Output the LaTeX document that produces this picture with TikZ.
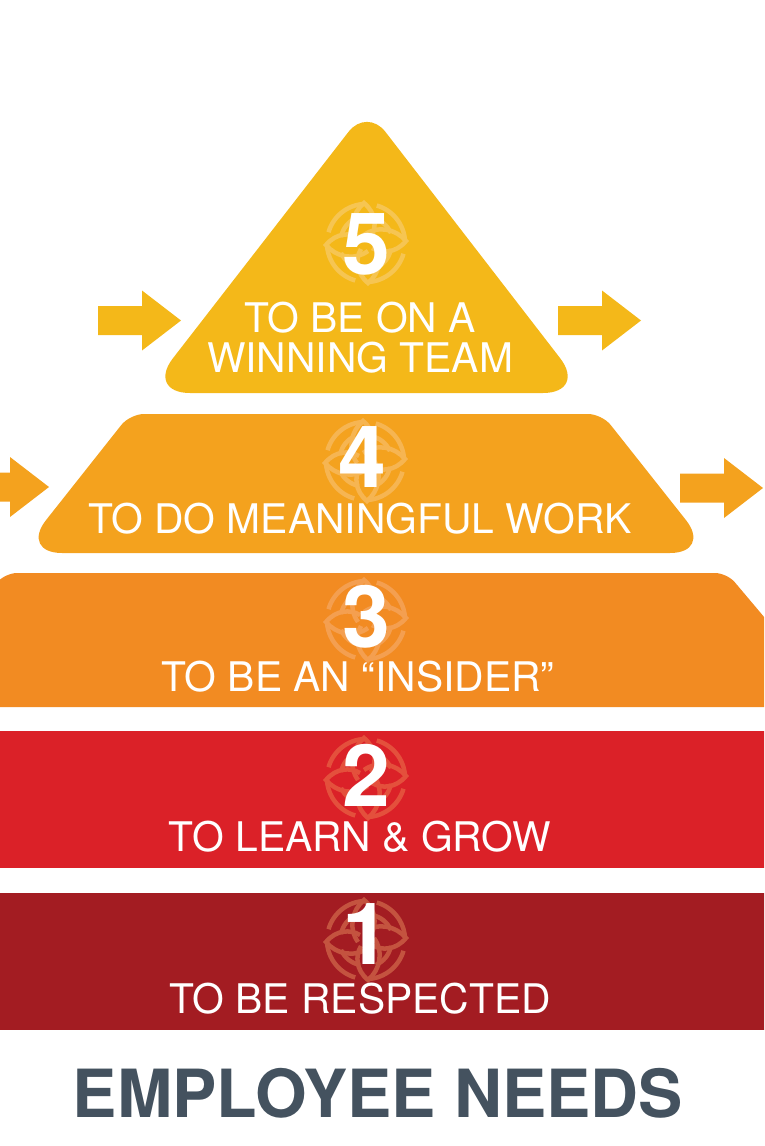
\documentclass[tikz,border=0pt]{standalone}
\usepackage{xcolor}
\usepackage{fontspec}
\setmainfont{TeX Gyre Heros}
\definecolor{levelfive}{HTML}{F4B819}
\definecolor{levelfour}{HTML}{F4A21E}
\definecolor{levelthree}{HTML}{F28B22}
\definecolor{leveltwo}{HTML}{DB2128}
\definecolor{levelone}{HTML}{A31C22}
\definecolor{swirlfive}{HTML}{F6C552}
\definecolor{swirlfour}{HTML}{F6B552}
\definecolor{swirlthree}{HTML}{F49F50}
\definecolor{swirltwo}{HTML}{E4503C}
\definecolor{swirlone}{HTML}{C4533F}
\definecolor{titleblue}{HTML}{44525F}
\tikzset{
    needtext/.style={text=white, font=\fontsize{40.8}{40}\selectfont, align=center, inner sep=0pt},
    neednum/.style={text=white, font=\fontsize{86}{86}\selectfont\bfseries, inner sep=0pt},
    pics/swirl/.style={code={
        \foreach \a in {0,90,180,270} {
            \begin{scope}[rotate=\a, draw=#1, line width=4.5pt]
                \draw (-2,-8) .. controls (12,-18) and (30,-14) .. (40,-2) .. controls (30,10) and (16,11) .. (6,5);
                \draw (2,39) arc (87:16:39);
                \draw (10,25) .. controls (18,21) and (23,15) .. (25,6);
            \end{scope}
        }
    }},
    pics/pusharrow/.style={code={
        \fill[#1] (0,-14.5) -- (44,-14.5) -- (44,-30) -- (83,0) -- (44,30) -- (44,14.5) -- (0,14.5) -- cycle;
    }}
}
\begin{document}
\begin{tikzpicture}[x=1pt, y=-1pt]
    \useasboundingbox (0,0) rectangle (764,1146);
    \clip (0,0) rectangle (764,1146);
    % Cut-off letter
    \node[text=titleblue, font=\fontsize{60}{60}\selectfont\bfseries, anchor=east, inner sep=0pt] (cutletter) at (3,224) {S};
    % Levels
    \fill[levelfive] (366,393) [rounded corners=44pt] -- (146,393) [rounded corners=30pt] -- (367,108) [rounded corners=44pt] -- (587,393) [sharp corners] -- cycle;
    \fill[levelfour] (366,553) [rounded corners=42pt] -- (20,553) [rounded corners=14pt] -- (130,414) -- (602,414) [rounded corners=42pt] -- (712,553) [sharp corners] -- cycle;
    \fill[levelthree, rounded corners=12pt] (-108,707) -- (5,573) -- (727,573) -- (840,707) -- cycle;
    \fill[leveltwo] (-10,731) rectangle (780,868);
    \fill[levelone] (-10,893) rectangle (780,1030);
    % Arrows
    \pic at (98,320.5) {pusharrow=levelfive};
    \pic at (558,320.5) {pusharrow=levelfive};
    \pic at (-34,487) {pusharrow=levelfour};
    \pic at (680,488) {pusharrow=levelfour};
    % Watermarks
    \pic at (366,243) {swirl=swirlfive};
    \pic at (365,461) {swirl=swirlfour};
    \pic at (366,620) {swirl=swirlthree};
    \pic at (366,778) {swirl=swirltwo};
    \pic at (366,940) {swirl=swirlone};
    % Numbers
    \node[neednum] (numfive) at (366,244) {5};
    \node[neednum] (numfour) at (362,457) {4};
    \node[neednum] (numthree) at (366,617) {3};
    \node[neednum] (numtwo) at (366,775) {2};
    \node[neednum] (numone) at (366,934) {1};
    % Labels
    \node[needtext] (textfive) at (360,338) {TO BE ON A\\WINNING TEAM};
    \node[needtext] (textfour) at (360,519) {TO DO MEANINGFUL WORK};
    \node[needtext] (textthree) at (358,676.5) {TO BE AN “INSIDER”};
    \node[needtext] (texttwo) at (360,837) {TO LEARN \& GROW};
    \node[needtext] (textone) at (360,999) {TO BE RESPECTED};
    % Title
    \node[text=titleblue, font=\fontsize{66.4}{66}\selectfont\bfseries, inner sep=0pt] (title) at (378,1093) {EMPLOYEE NEEDS};
\end{tikzpicture}
\end{document}
